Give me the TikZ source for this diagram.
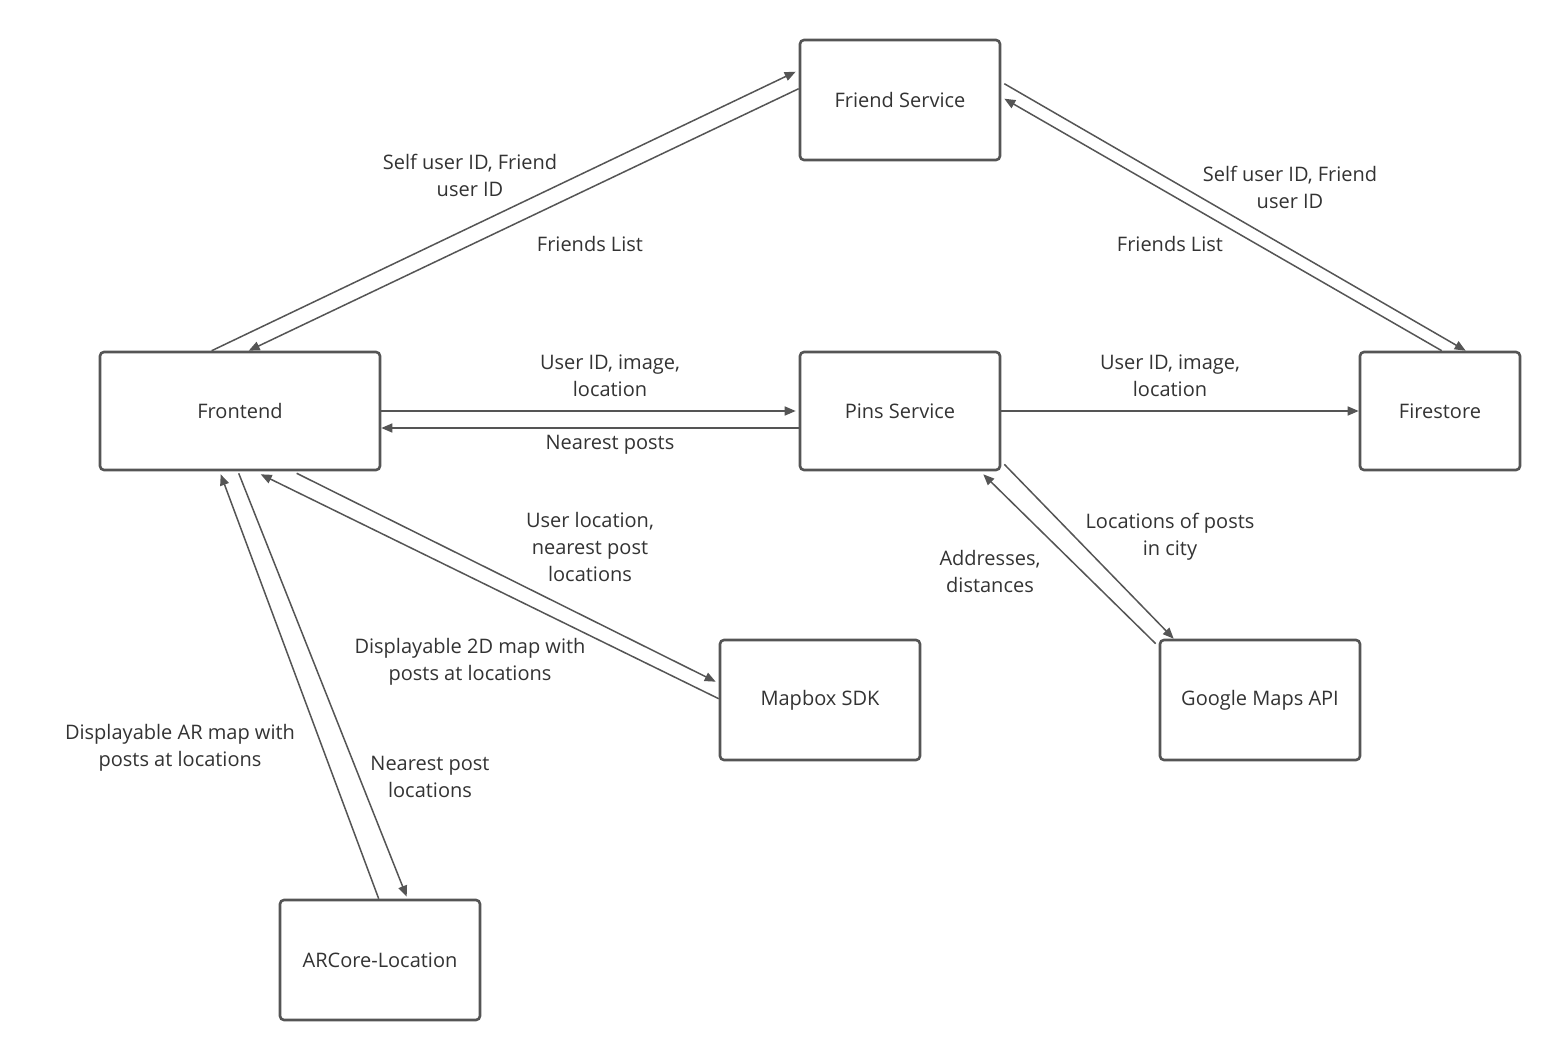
\documentclass[tikz,border=0pt]{standalone}
\usepackage{fontspec}
\setmainfont{Open Sans}
\usetikzlibrary{calc,arrows.meta}
\definecolor{ln}{HTML}{555555}
\definecolor{tx}{HTML}{333333}
\begin{document}
\begin{tikzpicture}[x=0.5pt,y=-0.5pt,
  box/.style={draw=ln,line width=1.3pt,rounded corners=2pt,fill=white,text=tx,font=\fontsize{10}{13}\selectfont,inner sep=0pt},
  conn/.style={draw=ln,line width=0.75pt,-{Triangle[length=5.5pt,width=4.5pt]}},
  lab/.style={text=tx,font=\fontsize{10}{13.5}\selectfont,align=center}]
\useasboundingbox[fill=white] (0,0) rectangle (1560,1060);
\node[box,minimum width=100pt,minimum height=60pt] (fs) at (900,100) {Friend Service};
\node[box,minimum width=140pt,minimum height=59pt] (fe) at (240,411) {Frontend};
\node[box,minimum width=100pt,minimum height=59pt] (ps) at (900,411) {Pins Service};
\node[box,minimum width=80pt,minimum height=59pt] (fi) at (1440,411) {Firestore};
\node[box,minimum width=100pt,minimum height=60pt] (mb) at (820,700) {Mapbox SDK};
\node[box,minimum width=100pt,minimum height=60pt] (gm) at (1260,700) {Google Maps API};
\node[box,minimum width=100pt,minimum height=60pt] (ar) at (380,960) {ARCore-Location};

\draw[conn] ($(fe.north west)+(113,0)$) -- ($(fs.north west)+(-3,33)$);
\draw[conn] ($(fs.north west)+(0,50)$) -- ($(fe.north west)+(150,0)$);
\draw[conn] ($(fs.north east)+(3,45)$) -- ($(fi.north west)+(107,0)$);
\draw[conn] ($(fi.north west)+(83,0)$) -- ($(fs.north east)+(3,60)$);
\draw[conn] ($(fe.east)$) -- ($(ps.west)+(-3,0)$);
\draw[conn] ($(ps.west)+(0,17)$) -- ($(fe.east)+(0,17)$);
\draw[conn] (ps.east) -- (fi.west);
\draw[conn] ($(ps.south east)+(3,-7)$) -- ($(gm.north west)+(15,0)$);
\draw[conn] ($(gm.north west)+(-3,5)$) -- ($(ps.south east)+(-18,3)$);
\draw[conn] ($(fe.south west)+(198,2)$) -- ($(mb.north west)+(-3,43)$);
\draw[conn] ($(mb.north west)+(0,60)$) -- ($(fe.south west)+(162,3)$);
\draw[conn] ($(fe.south west)+(140,2)$) -- ($(ar.north west)+(128,-2)$);
\draw[conn] ($(ar.north west)+(100,0)$) -- ($(fe.south west)+(122,3)$);

\node[lab] (l1) at (470,175) {Self user ID, Friend\\user ID};
\node[lab] (l2) at (590,244) {Friends List};
\node[lab] (l3) at (1290,187) {Self user ID, Friend\\user ID};
\node[lab] (l4) at (1170,244) {Friends List};
\node[lab] (l5) at (610,376) {User ID, image,\\location};
\node[lab] (l6) at (610,445) {Nearest posts};
\node[lab] (l7) at (1170,376) {User ID, image,\\location};
\node[lab] (l8) at (1170,537) {Locations of posts\\in city};
\node[lab] (l9) at (990,571) {Addresses,\\distances};
\node[lab] (l10) at (590,547) {User location,\\nearest post\\locations};
\node[lab] (l11) at (470,662) {Displayable 2D map with\\posts at locations};
\node[lab] (l12) at (180,748) {Displayable AR map with\\posts at locations};
\node[lab] (l13) at (430,777) {Nearest post\\locations};
\end{tikzpicture}
\end{document}
